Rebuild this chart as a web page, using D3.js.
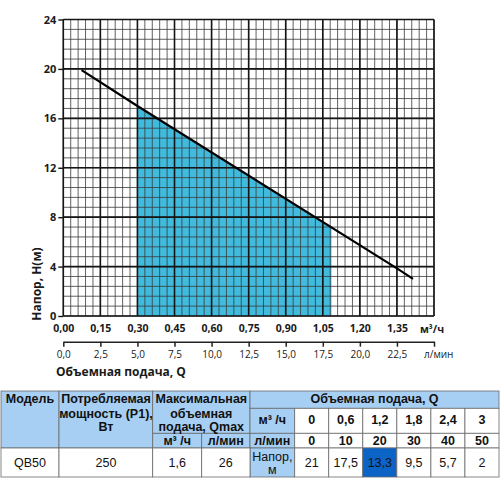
<!DOCTYPE html>
<html>
<head>
<meta charset="utf-8">
<script src="https://cdn.jsdelivr.net/npm/d3@7"></script>
<style>
  html, body { margin: 0; padding: 0; background: #fff; }
  svg { display: block; }
  .chart text { font-family: "Open Sans", sans-serif; fill: #1a1a1a; }
  .tbl text { font-family: "Liberation Sans", Arial, sans-serif; fill: #111; }
</style>
</head>
<body>
<div id="plot"></div>
<script>
'use strict';

// pump curve (Q in m3/h, H in m)
const curveQ = [0.074, 0.30, 1.35, 1.415];
const curveH = [19.9, 17.0, 3.85, 3.0];
// working range shaded under the curve
const workRange = [0.30, 1.085];

const yTicks = [0, 4, 8, 12, 16, 20, 24];
const qTicks = [0, 0.15, 0.30, 0.45, 0.60, 0.75, 0.90, 1.05, 1.20, 1.35];
const lTicks = [0, 2.5, 5, 7.5, 10, 12.5, 15, 17.5, 20, 22.5, 25];

// table
const model = 'QB50';
const power = '250';
const qmaxM3 = '1,6';
const qmaxL = '26';
const tableQm3 = ['0', '0,6', '1,2', '1,8', '2,4', '3'];
const tableQl = ['0', '10', '20', '30', '40', '50'];
const tableH = ['21', '17,5', '13,3', '9,5', '5,7', '2'];
const highlightIndex = 2;

const comma = (v, n) => v.toFixed(n).replace('.', ',');

const svg = d3.select('#plot').append('svg')
    .attr('width', 500)
    .attr('height', 500);

const chart = svg.append('g').attr('class', 'chart');

const x = d3.scaleLinear().domain([0, 1.5]).range([63.3, 434]);
const y = d3.scaleLinear().domain([0, 24]).range([316, 19.5]);
const xl = d3.scaleLinear().domain([0, 25]).range(x.range());

// linear interpolation along the read curve, to close the shaded area
function headAt(q) {
    for (let i = 1; i < curveQ.length; i++) {
        if (q <= curveQ[i]) {
            const t = (q - curveQ[i - 1]) / (curveQ[i] - curveQ[i - 1]);
            return curveH[i - 1] + t * (curveH[i] - curveH[i - 1]);
        }
    }
    return curveH[curveH.length - 1];
}

const areaPts = [[workRange[0], 0], [workRange[0], headAt(workRange[0])]];
curveQ.forEach((q, i) => {
    if (q > workRange[0] && q < workRange[1]) areaPts.push([q, curveH[i]]);
});
areaPts.push([workRange[1], headAt(workRange[1])], [workRange[1], 0]);

chart.append('path')
    .attr('d', d3.line().x(d => x(d[0])).y(d => y(d[1]))(areaPts) + 'Z')
    .attr('fill', '#41bbdd');

// minor grid
const gMinor = chart.append('g')
    .attr('stroke', '#3a3a3a')
    .attr('stroke-width', 0.8);
gMinor.selectAll('line.vx')
    .data(d3.range(0, 51).map(i => i * 0.03))
    .join('line')
        .attr('x1', d => x(d)).attr('x2', d => x(d))
        .attr('y1', y(0)).attr('y2', y(24));
gMinor.selectAll('line.hy')
    .data(d3.range(0, 31).map(i => i * 0.8))
    .join('line')
        .attr('y1', d => y(d)).attr('y2', d => y(d))
        .attr('x1', x(0)).attr('x2', x(1.5));

// major grid
const gMajor = chart.append('g')
    .attr('stroke', '#151515')
    .attr('stroke-width', 1.6);
gMajor.selectAll('line.vx')
    .data(qTicks.concat([1.5]))
    .join('line')
        .attr('x1', d => x(d)).attr('x2', d => x(d))
        .attr('y1', y(0)).attr('y2', y(24));
gMajor.selectAll('line.hy')
    .data(yTicks)
    .join('line')
        .attr('y1', d => y(d)).attr('y2', d => y(d))
        .attr('x1', x(0)).attr('x2', x(1.5));

// pump curve
chart.append('path')
    .datum(curveQ.map((q, i) => [q, curveH[i]]))
    .attr('d', d3.line().x(d => x(d[0])).y(d => y(d[1])))
    .attr('fill', 'none')
    .attr('stroke', '#000')
    .attr('stroke-width', 2.2);

// y axis
chart.append('g')
    .attr('transform', `translate(${x(0)},0)`)
    .call(d3.axisLeft(y).tickValues(yTicks).tickSize(5).tickPadding(2))
    .call(g => g.select('.domain').remove())
    .call(g => g.selectAll('line').attr('stroke', '#151515').attr('stroke-width', 1.4))
    .call(g => g.selectAll('text')
        .style('font-size', '11px').style('font-weight', 700)
        .attr('fill', '#1a1a1a'));

// x axis, m3/h
chart.append('g')
    .attr('transform', `translate(0,${y(0)})`)
    .call(d3.axisBottom(x).tickValues(qTicks).tickSize(0).tickPadding(9)
        .tickFormat(d => comma(d, 2)))
    .call(g => g.select('.domain').remove())
    .call(g => g.selectAll('text')
        .style('font-size', '10.5px').style('font-weight', 700)
        .attr('fill', '#1a1a1a'));

chart.append('text')
    .attr('x', 420).attr('y', 332.5)
    .style('font-size', '10.5px').style('font-weight', 700)
    .text('м³/ч');

// second x axis, l/min
chart.append('g')
    .attr('transform', 'translate(0,341.7)')
    .call(d3.axisBottom(xl).tickValues(lTicks).tickSize(5).tickSizeOuter(0).tickPadding(4)
        .tickFormat(d => d < 25 ? comma(d, 1) : ''))
    .call(g => g.select('.domain').attr('stroke', '#222').attr('stroke-width', 1.5))
    .call(g => g.selectAll('line').attr('stroke', '#222').attr('stroke-width', 1.5))
    .call(g => g.selectAll('text')
        .style('font-size', '10px').style('font-weight', 400)
        .attr('fill', '#333'));

chart.append('text')
    .attr('x', 424).attr('y', 357.5)
    .style('font-size', '10px')
    .attr('fill', '#333')
    .text('л/мин');

chart.append('text')
    .attr('x', 56).attr('y', 375.5)
    .style('font-size', '12px').style('font-weight', 700)
    .text('Объемная подача, Q');

chart.append('text')
    .attr('transform', 'translate(41,284) rotate(-90)')
    .attr('text-anchor', 'middle')
    .style('font-size', '12px').style('font-weight', 700)
    .text('Напор, H(м)');

// ---- table ----
const tbl = svg.append('g').attr('class', 'tbl');
const rows = [391, 408.3, 433.3, 448, 477];
const qCol = d3.scaleBand().domain(d3.range(tableQm3.length)).range([294.7, 499]);
const headBlue = '#a7cff3';
const darkBlue = '#0b64c6';

function cell(x0, x1, y0, y1, fill) {
    tbl.append('rect')
        .attr('x', x0).attr('y', y0)
        .attr('width', x1 - x0).attr('height', y1 - y0)
        .attr('fill', fill)
        .attr('stroke', '#6a6a6a')
        .attr('stroke-width', 0.8);
}

function label(tx, ty, s, size, bold) {
    tbl.append('text')
        .attr('x', tx).attr('y', ty)
        .attr('text-anchor', 'middle')
        .attr('dy', '0.35em')
        .style('font-size', size + 'px')
        .style('font-weight', bold ? 700 : 400)
        .text(s);
}

cell(1, 59, rows[0], rows[3], headBlue);
cell(59, 152.7, rows[0], rows[3], headBlue);
cell(152.7, 250, rows[0], rows[2], headBlue);
cell(152.7, 201.7, rows[2], rows[3], headBlue);
cell(201.7, 250, rows[2], rows[3], headBlue);
cell(250, 499, rows[0], rows[1], headBlue);
cell(250, 294.7, rows[1], rows[2], headBlue);
cell(250, 294.7, rows[2], rows[3], headBlue);
cell(250, 294.7, rows[3], rows[4], headBlue);
cell(1, 59, rows[3], rows[4], '#fff');
cell(59, 152.7, rows[3], rows[4], '#fff');
cell(152.7, 201.7, rows[3], rows[4], '#fff');
cell(201.7, 250, rows[3], rows[4], '#fff');

tableQm3.forEach((v, i) => {
    const x0 = qCol(i), x1 = x0 + qCol.bandwidth();
    cell(x0, x1, rows[1], rows[2], '#fff');
    cell(x0, x1, rows[2], rows[3], '#fff');
    cell(x0, x1, rows[3], rows[4], i === highlightIndex ? darkBlue : '#fff');
    const cx = x0 + qCol.bandwidth() / 2;
    label(cx, 420, v, 12.5, true);
    label(cx, 441, tableQl[i], 12.5, true);
    label(cx, 462.7, tableH[i], 12.5, false);
});

label(30, 398.3, 'Модель', 12.5, true);
label(106, 398.3, 'Потребляемая', 12.5, true);
label(106, 413.3, 'мощность (P1),', 12.5, true);
label(106, 427, 'Вт', 12.5, true);
label(201.3, 398.3, 'Максимальная', 12.5, true);
label(201.3, 413.3, 'объемная', 12.5, true);
label(201.3, 427, 'подача, Qmax', 12.5, true);
label(177.2, 441, 'м³ /ч', 12.5, true);
label(225.8, 441, 'л/мин', 12.5, true);
label(374.5, 398.3, 'Объемная подача, Q', 12.5, true);
label(272.3, 420, 'м³ /ч', 12.5, true);
label(272.3, 441, 'л/мин', 12.5, true);
label(272.3, 456.7, 'Напор,', 12.5, false);
label(272.3, 470, 'м', 12.5, false);
label(30, 462.7, model, 12.5, false);
label(106, 462.7, power, 12.5, false);
label(177.2, 462.7, qmaxM3, 12.5, false);
label(225.8, 462.7, qmaxL, 12.5, false);
</script>
</body>
</html>
